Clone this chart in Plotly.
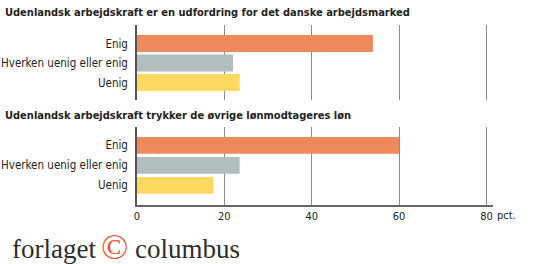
import plotly.graph_objects as go

categories = ["Enig", "Hverken uenig eller enig", "Uenig"]
q1_title = "Udenlandsk arbejdskraft er en udfordring for det danske arbejdsmarked"
q1_values = [54, 22, 23.5]
q2_title = "Udenlandsk arbejdskraft trykker de øvrige lønmodtageres løn"
q2_values = [60, 23.5, 17.5]
tick_vals = [0, 20, 40, 60, 80]
tick_text = ["0", "20", "40", "60", "80"]
bar_colors = ["#EF8A5C", "#B1BEBE", "#FED962"]

FONT = "DejaVu Sans Condensed, sans-serif"
TXT = "#222222"

fig = go.Figure()
fig.add_trace(go.Bar(x=q1_values, y=categories, orientation="h",
                     marker=dict(color=bar_colors, line=dict(width=0)),
                     width=0.87, xaxis="x", yaxis="y", showlegend=False,
                     hoverinfo="x+y"))
fig.add_trace(go.Bar(x=q2_values, y=categories, orientation="h",
                     marker=dict(color=bar_colors, line=dict(width=0)),
                     width=0.84, xaxis="x2", yaxis="y2", showlegend=False,
                     hoverinfo="x+y"))

xcommon = dict(range=[0, 81.5], tickvals=tick_vals, ticktext=tick_text,
               showgrid=True, gridcolor="#8A8A8A", gridwidth=1,
               zeroline=False, domain=[0, 1], fixedrange=True, automargin=False)
ycommon = dict(type="category", categoryarray=categories, showline=True,
               linecolor="#555555", linewidth=1.5, ticks="", showgrid=False,
               tickfont=dict(family=FONT, size=11.5, color=TXT), ticklabelstandoff=5,
               fixedrange=True, automargin=False)

fig.update_layout(
    width=550, height=264,
    margin=dict(l=137, r=57, t=25, b=59),
    paper_bgcolor="white", plot_bgcolor="white",
    bargap=0.1,
    xaxis=dict(**xcommon, anchor="y", showticklabels=False, showline=False),
    yaxis=dict(**ycommon, domain=[0.5833, 1.0], range=[2.9, -0.95], anchor="x"),
    xaxis2=dict(**xcommon, anchor="y2", showticklabels=True, showline=True,
                linecolor="#666666", linewidth=1.5, ticks="",
                tickfont=dict(family=FONT, size=11, color=TXT)),
    yaxis2=dict(**ycommon, domain=[0, 0.4333], range=[2.98, -0.92], anchor="x2"),
)

annotations = [
    dict(text="<b>" + q1_title + "</b>", xref="paper", yref="paper",
         x=-0.376, y=1.072, xanchor="left", yanchor="middle", showarrow=False,
         font=dict(family=FONT, size=11, color=TXT)),
    dict(text="<b>" + q2_title + "</b>", xref="paper", yref="paper",
         x=-0.376, y=0.5, xanchor="left", yanchor="middle", showarrow=False,
         font=dict(family=FONT, size=11, color=TXT)),
    dict(text="pct.", xref="x2", yref="paper", x=80, y=-0.058,
         xanchor="left", yanchor="middle", xshift=9, showarrow=False,
         font=dict(family=FONT, size=11, color=TXT)),
    dict(text="forlaget", xref="paper", yref="paper", x=-0.358, y=-0.244,
         xanchor="left", yanchor="middle", showarrow=False,
         font=dict(family="Liberation Serif, serif", size=27, color="#2e2e2e")),
    dict(text="©", xref="paper", yref="paper", x=-0.108, y=-0.236,
         xanchor="left", yanchor="middle", showarrow=False,
         font=dict(family="Liberation Serif, serif", size=36, color="#E3583B")),
    dict(text="columbus", xref="paper", yref="paper", x=-0.011, y=-0.244,
         xanchor="left", yanchor="middle", showarrow=False,
         font=dict(family="Liberation Serif, serif", size=27, color="#2e2e2e")),
]
fig.update_layout(annotations=annotations)

fig.write_html("out.html")
